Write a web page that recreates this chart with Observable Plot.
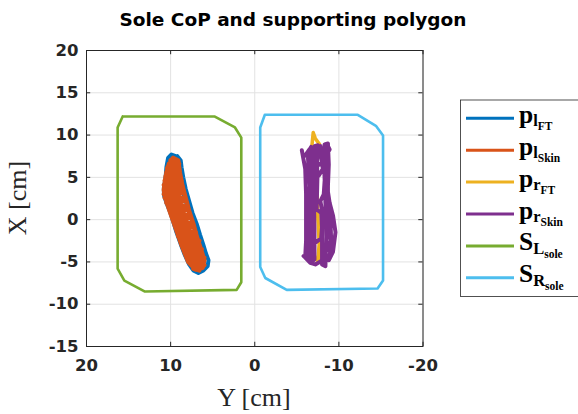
<!DOCTYPE html>
<html><head><meta charset="utf-8">
<script src="https://cdn.jsdelivr.net/npm/d3@7"></script>
<script src="https://cdn.jsdelivr.net/npm/@observablehq/plot@0.6"></script>
<style>body{margin:0;background:#fff}#chart{width:578px;height:414px}</style>
</head><body><div id="chart"></div>
<script>
// Tick values
const xTicks = [20, 10, 0, -10, -20];
const yTicks = [-15, -10, -5, 0, 5, 10, 15, 20];

// Each point is [Y (horizontal), X (vertical)] in cm
const sLsole = [[15.7,12.2],[4.8,12.2],[2.35,10.9],[1.6,9.7],[1.6,-7.4],[2.15,-8.3],[13.05,-8.5],[15.5,-7.2],[16.3,-5.8],[16.3,10.9],[15.7,12.2]];
const sRsole = [[-1.2,12.4],[-12.25,12.4],[-14.4,11.1],[-15.25,9.95],[-15.25,-7.2],[-14.6,-8.15],[-3.8,-8.3],[-1.25,-6.9],[-0.65,-5.6],[-0.65,10.9],[-1.2,12.4]];

const plFT = [[9.4,7.5],[9.9,7.7],[10.3,7.3],[10.5,6.2],[10.6,5.0],[10.8,3.8],[10.8,2.9],[10.5,2.0],[10.1,1.0],[9.7,-0.2],[9.3,-1.5],[8.8,-2.9],[8.3,-4.2],[7.8,-5.3],[7.3,-6.0],[6.7,-6.3],[6.1,-6.0],[5.6,-5.5],[5.5,-4.8],[5.8,-4.0],[6.1,-3.0],[6.5,-1.8],[6.9,-0.5],[7.4,0.8],[7.8,2.2],[8.2,3.6],[8.5,5.0],[8.7,6.2],[8.8,7.0],[9.2,7.5],[9.6,6.8],[8.9,4.5],[8.0,1.5],[7.0,-1.5],[6.2,-4.0],[6.5,-5.5]];

const plSkin = [[10.0,7.0],[9.0,6.6],[10.4,6.1],[8.9,5.6],[10.6,5.1],[8.7,4.6],[10.8,4.1],[8.5,3.5],[10.8,3.0],[8.3,2.5],[10.5,2.0],[8.0,1.5],[10.1,1.0],[7.7,0.5],[9.7,0.0],[7.3,-0.5],[9.4,-1.0],[7.0,-1.5],[9.1,-2.0],[6.6,-2.5],[8.7,-3.0],[6.3,-3.5],[8.3,-4.0],[6.0,-4.5],[7.9,-5.0],[6.0,-5.4],[7.3,-5.8],[6.6,-6.0],[7.6,-5.2],[6.2,-4.8],[8.1,-4.4],[6.4,-3.8],[8.5,-3.4],[6.8,-2.8],[8.9,-2.4],[7.1,-1.8],[9.2,-1.4],[7.4,-0.8],[9.5,-0.4],[7.8,0.2],[9.9,0.6],[8.1,1.2],[10.3,1.6],[8.4,2.2],[10.7,2.6],[8.6,3.2],[10.8,3.6],[8.8,4.2],[10.7,4.6],[8.9,5.2],[10.5,5.6],[9.1,6.2],[10.2,6.6],[9.4,7.0],[9.7,7.3],
  [9.1,7.0],[8.9,5.5],[8.6,4.0],[8.2,2.5],[7.8,1.0],[7.3,-0.5],[6.9,-2.0],[6.4,-3.5],[6.0,-4.8],[6.2,-5.7],[7.0,-5.9],[7.9,-5.0],[8.7,-3.0],[9.4,-1.0],[10.1,1.0],[10.6,2.5],[10.8,3.5],[10.6,5.0],[10.3,6.3],[9.8,7.2],
  [9.5,5.8],[9.7,3.5],[9.0,1.2],[8.2,-1.6],[7.4,-3.8],[6.9,-5.2]];

const prFT = [[-6.8,8.8],[-6.95,10.3],[-7.2,9.6],[-7.7,8.9],[-7.1,8.2],[-7.3,6.5],[-7.3,4.5],[-7.45,2.5],[-7.5,0.5],[-7.6,-1.5],[-7.65,-3.0],[-7.55,-4.2],[-7.4,-4.8],[-7.75,-4.5],[-7.7,-2.5],[-7.55,-0.5],[-7.4,1.5],[-7.3,3.5],[-7.2,6.0],[-7.4,8.5]];

const prSkin = [[-5.6,8.2],[-6.0,6.0],[-6.1,3.0],[-6.1,0.0],[-6.1,-2.5],[-6.0,-4.4],[-6.4,-4.9],[-6.5,-2.0],[-6.5,1.0],[-6.6,3.5],[-6.4,6.0],[-6.3,7.9],[-6.7,8.6],[-6.8,6.0],[-6.9,2.0],[-6.8,-1.0],[-6.8,-3.0],[-6.8,-5.0],[-7.1,-4.7],[-7.1,-1.0],[-7.0,3.5],[-7.0,6.5],[-7.1,8.7],[-7.5,8.8],[-7.4,7.0],[-7.45,5.0],[-7.4,3.0],[-7.35,1.2],[-7.9,0.8],[-8.0,-1.0],[-8.0,-5.3],[-8.4,-5.5],[-8.5,-2.0],[-8.4,2.0],[-8.3,5.0],[-8.2,7.5],[-8.3,8.9],[-8.7,9.0],[-8.8,6.5],[-8.7,4.0],[-8.7,2.5],[-9.0,0.0],[-9.1,-3.0],[-8.8,-4.8],[-9.3,-3.8],[-9.6,-1.5],[-9.3,0.5],[-8.9,2.0],[-8.7,3.3],[-8.5,2.0],[-8.8,-0.5],[-9.0,-2.5],
  [-8.6,-3.5],[-7.9,-4.9],[-7.2,-5.3],[-6.6,-5.1],[-6.0,-4.5],[-6.3,-3.5],[-6.2,-1.0],[-6.4,2.0],[-6.6,4.5],[-7.6,5.2],[-8.1,6.0],[-7.8,7.8],[-7.8,8.7],[-6.5,8.3],[-6.0,7.6],[-6.8,7.3],[-7.7,6.5],[-8.5,7.6],[-8.9,8.3],[-8.6,8.9],
  [-8.2,3.0],[-7.8,2.2],[-8.1,0.5],[-7.9,-2.2],[-7.1,-2.8],[-6.9,-4.2],[-6.3,-4.7],[-5.8,-4.3]];

const seriesNames = ["plFT", "plSkin", "prFT", "prSkin", "SLsole", "SRsole"];
const seriesColors = ["#0072BD", "#D95319", "#EDB120", "#7E2F8E", "#77AC30", "#4DBEEE"];
const seriesPts = [plFT, plSkin, prFT, prSkin, sLsole, sRsole];
const legendMain = ["p", "p", "p", "p", "S", "S"];
const legendSub = ["l", "l", "r", "r", "L", "R"];
const legendSubSub = ["FT", "Skin", "FT", "Skin", "sole", "sole"];

const toRows = pts => pts.map(([y, x]) => ({Y: y, X: x}));
const widths = [4, 4.5, 3.5, 4, 2.6, 2.6];

const ink = "#262626";
const plot = Plot.plot({
  width: 578, height: 414,
  marginLeft: 86, marginRight: 155.5, marginTop: 50, marginBottom: 68,
  x: {domain: [20, -20]},
  y: {domain: [-15, 20]},
  style: {fontFamily: "DejaVu Sans", fontSize: "16.5px", fontWeight: "bold", background: "white", color: ink},
  marks: [
    Plot.gridX(xTicks, {stroke: "#e2e2e2", strokeOpacity: 1}),
    Plot.gridY(yTicks, {stroke: "#e2e2e2", strokeOpacity: 1}),
    ...seriesPts.map((pts, i) => Plot.line(toRows(pts), {x: "Y", y: "X", stroke: seriesColors[i], strokeWidth: widths[i], strokeLinejoin: "round", strokeLinecap: "round"})),
    Plot.ruleX(xTicks, {x: d => d, y1: -15, y2: -14.5, stroke: ink}),
    Plot.ruleX(xTicks, {x: d => d, y1: 20, y2: 19.5, stroke: ink}),
    Plot.ruleY(yTicks, {y: d => d, x1: 20, x2: 19.5, stroke: ink}),
    Plot.ruleY(yTicks, {y: d => d, x1: -20, x2: -19.5, stroke: ink}),
    Plot.frame({stroke: ink, strokeWidth: 1}),
    Plot.axisX({ticks: xTicks, tickSize: 0, tickPadding: 13, label: null, tickFormat: d => String(d), fill: ink}),
    Plot.axisY({ticks: yTicks, tickSize: 0, tickPadding: 8, label: null, tickFormat: d => String(d), fill: ink})
  ]
});

const svg = d3.select(plot);
svg.append("text").attr("x", 293).attr("y", 26).attr("text-anchor", "middle")
  .style("font-family", "DejaVu Sans").style("font-weight", "bold").style("font-size", "18.5px").attr("fill", "#000")
  .text("Sole CoP and supporting polygon");
svg.append("text").attr("x", 254).attr("y", 406).attr("text-anchor", "middle")
  .style("font-family", "Liberation Serif").style("font-weight", "normal").style("font-size", "26px").attr("fill", ink)
  .text("Y [cm]");
svg.append("text").attr("transform", "translate(26,198) rotate(-90)").attr("text-anchor", "middle")
  .style("font-family", "Liberation Serif").style("font-weight", "normal").style("font-size", "26px").attr("fill", ink)
  .text("X [cm]");

// Legend
const lg = svg.append("g");
lg.append("rect").attr("x", 460.5).attr("y", 100).attr("width", 130).attr("height", 196.5)
  .attr("fill", "white").attr("stroke", ink).attr("stroke-width", 0.8);
seriesNames.forEach((name, i) => {
  const cy = 118.3 + i * 31.9;
  lg.append("line").attr("x1", 466).attr("x2", 514).attr("y1", cy).attr("y2", cy)
    .attr("stroke", seriesColors[i]).attr("stroke-width", 3);
  const t = lg.append("text").attr("x", 519).attr("y", cy + 4.5).attr("text-anchor", "start")
    .style("font-family", "Liberation Serif").style("font-weight", "bold").attr("fill", "#000");
  t.append("tspan").style("font-size", "25.5px").text(legendMain[i]);
  t.append("tspan").style("font-size", "16.5px").attr("dy", 3.5).text(legendSub[i]);
  t.append("tspan").style("font-size", "11.5px").attr("dy", 3.8).text(legendSubSub[i]);
});

document.getElementById("chart").appendChild(plot);
</script>
</body></html>
